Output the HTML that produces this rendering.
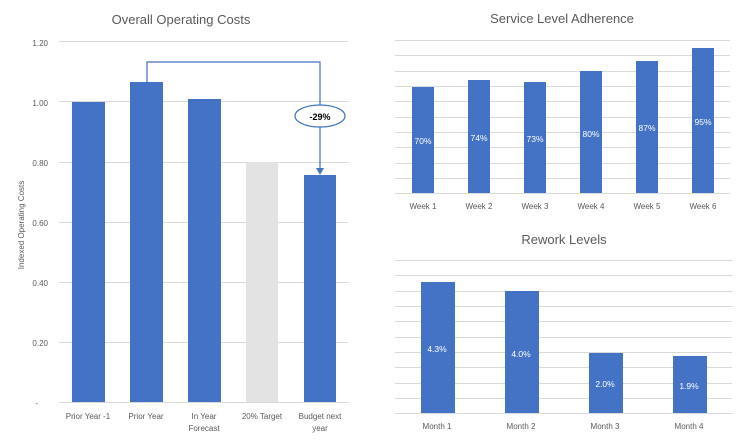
<!DOCTYPE html><html><head><style>body{margin:0;background:#fff}svg{font-family:"Liberation Sans",sans-serif}</style></head><body>
<svg width="745" height="440" viewBox="0 0 745 440" xmlns="http://www.w3.org/2000/svg">
<g stroke="#d9d9d9" stroke-width="1">
<line x1="59" x2="348" y1="41.5" y2="41.5"/><line x1="59" x2="348" y1="101.5" y2="101.5"/><line x1="59" x2="348" y1="162.5" y2="162.5"/><line x1="59" x2="348" y1="222.5" y2="222.5"/><line x1="59" x2="348" y1="282.5" y2="282.5"/><line x1="59" x2="348" y1="342.5" y2="342.5"/><line x1="59" x2="348" y1="402.5" y2="402.5"/>
<line x1="395" x2="730" y1="40.5" y2="40.5"/><line x1="395" x2="730" y1="55.5" y2="55.5"/><line x1="395" x2="730" y1="71.5" y2="71.5"/><line x1="395" x2="730" y1="86.5" y2="86.5"/><line x1="395" x2="730" y1="101.5" y2="101.5"/><line x1="395" x2="730" y1="117.5" y2="117.5"/><line x1="395" x2="730" y1="132.5" y2="132.5"/><line x1="395" x2="730" y1="147.5" y2="147.5"/><line x1="395" x2="730" y1="163.5" y2="163.5"/><line x1="395" x2="730" y1="178.5" y2="178.5"/><line x1="395" x2="730" y1="193.5" y2="193.5"/>
<line x1="395" x2="732" y1="260.5" y2="260.5"/><line x1="395" x2="732" y1="275.5" y2="275.5"/><line x1="395" x2="732" y1="291.5" y2="291.5"/><line x1="395" x2="732" y1="306.5" y2="306.5"/><line x1="395" x2="732" y1="321.5" y2="321.5"/><line x1="395" x2="732" y1="337.5" y2="337.5"/><line x1="395" x2="732" y1="352.5" y2="352.5"/><line x1="395" x2="732" y1="367.5" y2="367.5"/><line x1="395" x2="732" y1="383.5" y2="383.5"/><line x1="395" x2="732" y1="398.5" y2="398.5"/><line x1="395" x2="732" y1="413.5" y2="413.5"/>
</g>
<g fill="#4472c4">
<rect x="72" y="102" width="33" height="300"/><rect x="130" y="82" width="33" height="320"/><rect x="188" y="99" width="33" height="303"/><rect x="304" y="175" width="32" height="227"/>
<rect x="412" y="87" width="22" height="106"/><rect x="468" y="80" width="22" height="113"/><rect x="524" y="82" width="22" height="111"/><rect x="580" y="71" width="22" height="122"/><rect x="636" y="61" width="22" height="132"/><rect x="692" y="48" width="22" height="145"/>
<rect x="421" y="282" width="34" height="131"/><rect x="505" y="291" width="34" height="122"/><rect x="589" y="353" width="34" height="60"/><rect x="673" y="356" width="34" height="57"/>
</g>
<rect x="246" y="162" width="32" height="240" fill="#e3e3e3"/>
<g fill="none" stroke="#4472c4" stroke-width="1.2"><polyline points="147,82 147,62 320,62 320,170"/><ellipse cx="320" cy="116" rx="25" ry="11" fill="#fff"/></g>
<polygon points="316,168 324,168 320,175" fill="#4472c4"/>
<text x="320" y="120" font-size="9" font-weight="bold" text-anchor="middle" fill="#000">-29%</text>
<g fill="#595959" font-size="13" text-anchor="middle"><text x="181" y="24">Overall Operating Costs</text><text x="562" y="23">Service Level Adherence</text><text x="564" y="244">Rework Levels</text></g>
<g fill="#595959" font-size="8" text-anchor="end"><text x="48" y="46">1.20</text><text x="48" y="106">1.00</text><text x="48" y="166">0.80</text><text x="48" y="226">0.60</text><text x="48" y="286">0.40</text><text x="48" y="346">0.20</text><text x="38" y="406">-</text></g>
<text transform="translate(24,225) rotate(-90)" font-size="8" fill="#595959" text-anchor="middle">Indexed Operating Costs</text>
<g fill="#595959" font-size="8" text-anchor="middle">
<text x="88" y="419">Prior Year -1</text><text x="146" y="419">Prior Year</text><text x="204" y="419">In Year</text><text x="204" y="431">Forecast</text><text x="262" y="419">20% Target</text><text x="320" y="419">Budget next</text><text x="320" y="431">year</text>
<text x="423" y="209">Week 1</text><text x="479" y="209">Week 2</text><text x="535" y="209">Week 3</text><text x="591" y="209">Week 4</text><text x="647" y="209">Week 5</text><text x="703" y="209">Week 6</text>
<text x="437" y="429">Month 1</text><text x="521" y="429">Month 2</text><text x="605" y="429">Month 3</text><text x="689" y="429">Month 4</text>
</g>
<g fill="#fff" font-size="8.5" text-anchor="middle">
<text x="423" y="144">70%</text><text x="479" y="141">74%</text><text x="535" y="142">73%</text><text x="591" y="137">80%</text><text x="647" y="131">87%</text><text x="703" y="125">95%</text>
<text x="437" y="352">4.3%</text><text x="521" y="357">4.0%</text><text x="605" y="387">2.0%</text><text x="689" y="389">1.9%</text>
</g>
</svg></body></html>
